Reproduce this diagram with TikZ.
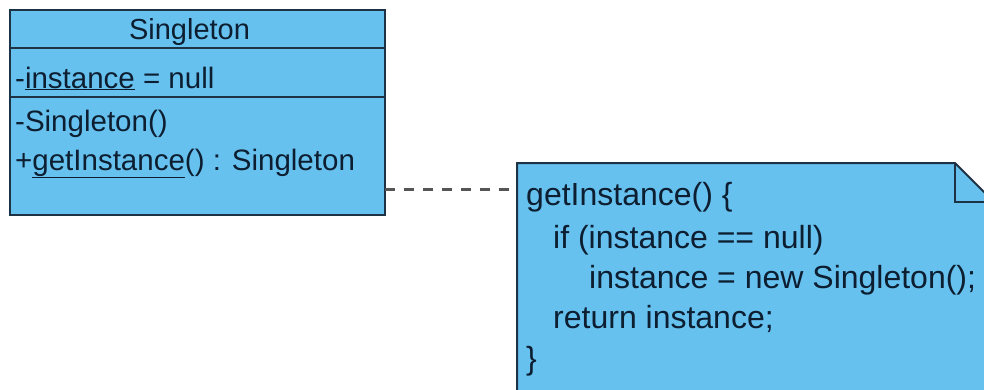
\documentclass[tikz,border=0pt]{standalone}
\usepackage{fontspec}
\setmainfont{Liberation Sans}
\usetikzlibrary{positioning}
\definecolor{umlfill}{RGB}{103,193,239}
\definecolor{umlline}{RGB}{30,50,70}
\definecolor{umltext}{RGB}{12,30,48}
\definecolor{dashgray}{RGB}{85,85,85}

\begin{document}
\begin{tikzpicture}[x=1pt,y=1pt]
    \tikzstyle{cpart} = [draw=umlline, fill=umlfill, line width=2pt, minimum width=375pt, inner sep=0pt, outer sep=0pt]
    \tikzstyle{ctext} = [text=umltext, font=\fontsize{29.5}{39}\selectfont, inner sep=0pt, anchor=base west]
    \tikzstyle{ntext} = [ctext, font=\fontsize{32}{40}\selectfont]
    \tikzstyle{dep} = [draw=dashgray, line width=3pt, dash pattern=on 10pt off 9pt]
    \useasboundingbox (0,0) rectangle (984,-389);
    % class box
    \node[cpart, minimum height=38pt, anchor=north west] (head) at (10,-10) {};
    \node[cpart, minimum height=49pt, below=0pt of head] (attr) {};
    \node[cpart, minimum height=118pt, below=0pt of attr] (ops) {};
    \node[ctext, anchor=base, font=\fontsize{29}{39}\selectfont] (cname) at ([xshift=-8pt,yshift=-29pt]head.north) {Singleton};
    \node[ctext] (a1) at (15,-88) {-\underline{instance} = null};
    \node[ctext] (o1) at (15,-131) {-Singleton()};
    \node[ctext] (o2) at (15,-170) {+\underline{getInstance}() : Singleton};
    % note
    \begin{scope}
      \clip (0,0) rectangle (984,-389);
      \draw[umlline, fill=umlfill, line width=2pt] (517,-163) -- (955,-163) -- (994,-202) -- (994,-400) -- (517,-400) -- cycle;
      \draw[umlline, line width=2pt] (955,-163) -- (955,-202) -- (994,-202);
    \end{scope}
    \coordinate (nin) at (517,-189);
    \node[ntext] (n1) at (526,-205) {getInstance() \{};
    \node[ntext] (n2) at (553,-248) {if (instance == null)};
    \node[ntext] (n3) at (589,-288) {instance = new Singleton();};
    \node[ntext] (n4) at (553,-328) {return instance;};
    \node[ntext] (n5) at (526,-369) {\}};
    % dependency
    \draw[dep] (ops.east |- nin) -- (nin);
\end{tikzpicture}
\end{document}
